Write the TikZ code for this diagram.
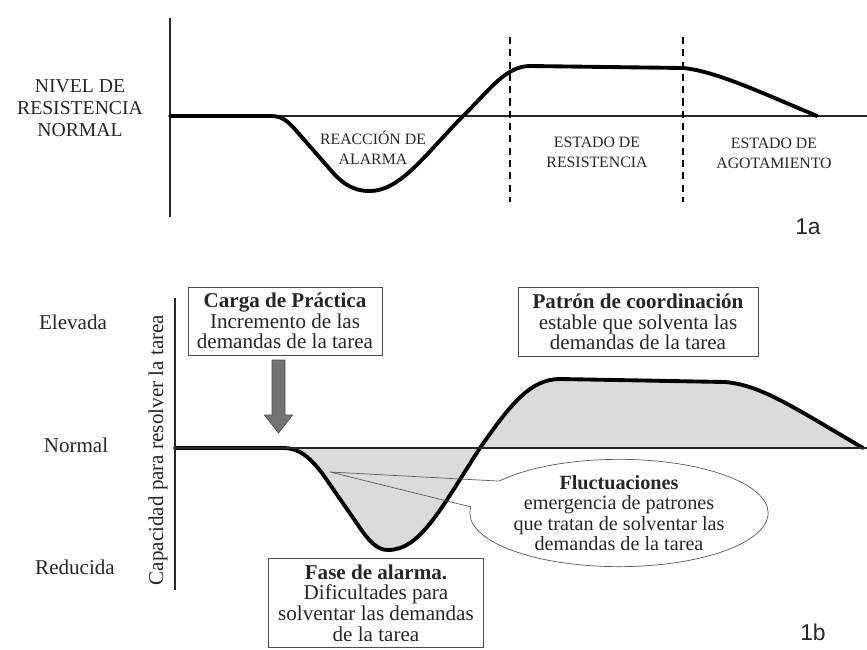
\documentclass[tikz,border=0pt]{standalone}
\usepackage{fontspec}
\setmainfont{Liberation Serif}
\newfontfamily\panelfont{Liberation Sans}
\usetikzlibrary{positioning,shapes,shapes.callouts}
\colorlet{fillgrey}{black!14}

\begin{document}
\begin{tikzpicture}[x=0.02cm, y=-0.02cm,
    every node/.style={text=black!85, font=\fontsize{11.5}{11.7}\selectfont},
    axisline/.style={draw=black!85, line width=1pt},
    bigcurve/.style={line width=2.2pt, line join=round, line cap=round},
    phase/.style={align=center, font=\fontsize{9}{11.4}\selectfont},
    sidetext/.style={align=center, font=\fontsize{12}{12.5}\selectfont},
    textbox/.style={draw=black!70, fill=white, thin, align=center, inner sep=1pt,
        font=\fontsize{12}{11.7}\selectfont},
    panel/.style={font=\panelfont\fontsize{13}{13}\selectfont}
    ]
\useasboundingbox (0,0) rectangle (867,650);

% --- 1a: niveles de resistencia ---
\draw[axisline] (170,18) -- (170,217);
\draw[axisline, line width=0.9pt] (170,116) -- (867,116);
\draw[line width=1pt, dash pattern=on 4pt off 3pt] (510,37) -- (510,202);
\draw[line width=1pt, dash pattern=on 4pt off 3pt] (683,37) -- (683,202);
\draw[bigcurve] (170,116) -- (272,116) .. controls (285,116) and (292,126) .. (300,135)
    -- (335,175) .. controls (348,188) and (358,191) .. (370,191)
    .. controls (400,191) and (425,155) .. (463,116)
    .. controls (488,92) and (505,66) .. (530,66) -- (683,68)
    .. controls (715,71) and (760,92) .. (817,116);

\node[sidetext, font=\fontsize{11.2}{12.5}\selectfont] (nivel) at (80,108) {NIVEL DE\\RESISTENCIA\\NORMAL};
\node[phase] (alarma) at (373,148) {REACCIÓN DE\\ALARMA};
\node[phase] (resist) at (597,152) {ESTADO DE\\RESISTENCIA};
\node[phase] (agot) at (774,153) {ESTADO DE\\AGOTAMIENTO};
\node[panel] (p1a) at (808,227) {1a};

% --- 1b: capacidad para resolver la tarea ---
\draw[bigcurve, fill=fillgrey] (175,448) -- (283,448)
    .. controls (300,448) and (310,458) .. (322,473) -- (358,525)
    .. controls (370,543) and (378,550) .. (388,550)
    .. controls (420,550) and (440,510) .. (480,448)
    .. controls (510,405) and (530,379) .. (560,379) -- (725,382)
    .. controls (760,385) and (790,405) .. (863,448);
\draw[axisline, line width=1.3pt] (175,448) -- (867,448);
\draw[axisline, line width=1.6pt] (175,298) -- (175,590);

\node[sidetext] (elev) at (73,322) {Elevada};
\node[sidetext] (norm) at (76,445) {Normal};
\node[sidetext] (redu) at (75,567) {Reducida};
\node[sidetext, rotate=90] (capac) at (158,450) {Capacidad para resolver la tarea};

\node[textbox, minimum width=3.88cm, minimum height=1.36cm] (carga) at (285,321)
    {\textbf{Carga de Práctica}\\Incremento de las\\demandas de la tarea};
\coordinate (push) at (278.5,360);
\filldraw[fill=black!55, draw=black!70] (push) ++(-6.5,0) -- ++(13,0) -- ++(0,55)
    -- ++(7.5,0) -- ++(-14,18) -- ++(-14,-18) -- ++(7.5,0) -- cycle;
\node[textbox, minimum width=4.8cm, minimum height=1.38cm] (patron) at (638,322)
    {\textbf{Patrón de coordinación}\\estable que solventa las\\demandas de la tarea};
\node[textbox, minimum width=4.3cm, minimum height=1.78cm] (fase) at (376,603)
    {\textbf{Fase de alarma.}\\Dificultades para\\solventar las demandas\\de la tarea};

\coordinate (tip) at (330,472);
\node[ellipse callout, draw=black!65, thin, callout absolute pointer={(tip)},
    callout pointer arc=30, minimum width=5.76cm, minimum height=2cm,
    inner sep=0pt, align=center] (fluct) at (619,513)
    {\textbf{Fluctuaciones}\\emergencia de patrones\\que tratan de solventar las\\demandas de la tarea};

\node[panel] (p1b) at (813,632) {1b};
\end{tikzpicture}
\end{document}
